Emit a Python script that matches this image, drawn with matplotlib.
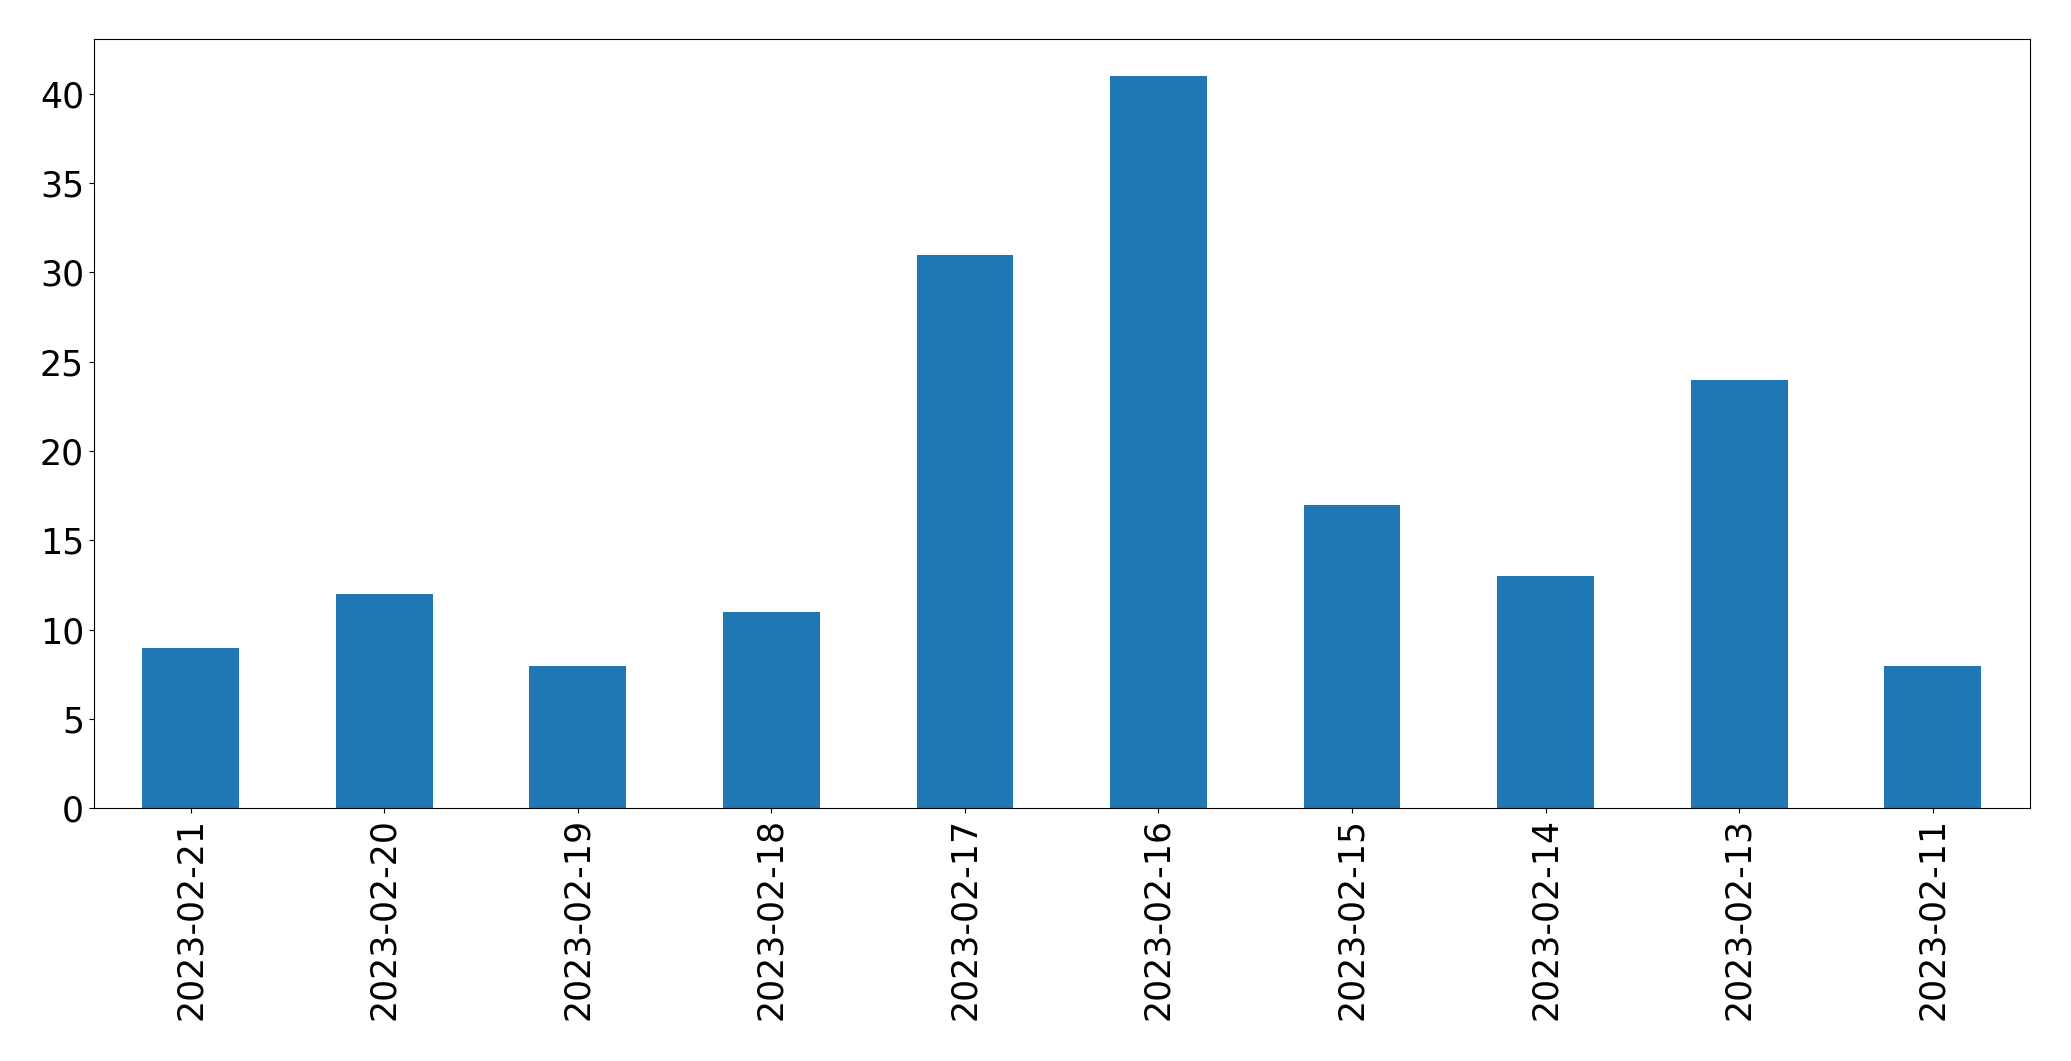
import matplotlib
matplotlib.use("Agg")
import matplotlib.pyplot as plt
import pandas as pd

# Counts per day, in the order shown
dates = ["2023-02-21", "2023-02-20", "2023-02-19", "2023-02-18", "2023-02-17",
         "2023-02-16", "2023-02-15", "2023-02-14", "2023-02-13", "2023-02-11"]
counts = [9, 12, 8, 11, 31, 41, 17, 13, 24, 8]

plt.rcParams["font.size"] = 25

series = pd.Series(counts, index=dates)

fig, ax = plt.subplots(figsize=(20.71, 10.61), dpi=100)
series.plot(kind="bar", ax=ax, color="#1f77b4")
ax.tick_params(axis="both", labelsize=25)

fig.subplots_adjust(left=0.0453, right=0.980, top=0.963, bottom=0.238)
fig.savefig("out.png", dpi=100)
